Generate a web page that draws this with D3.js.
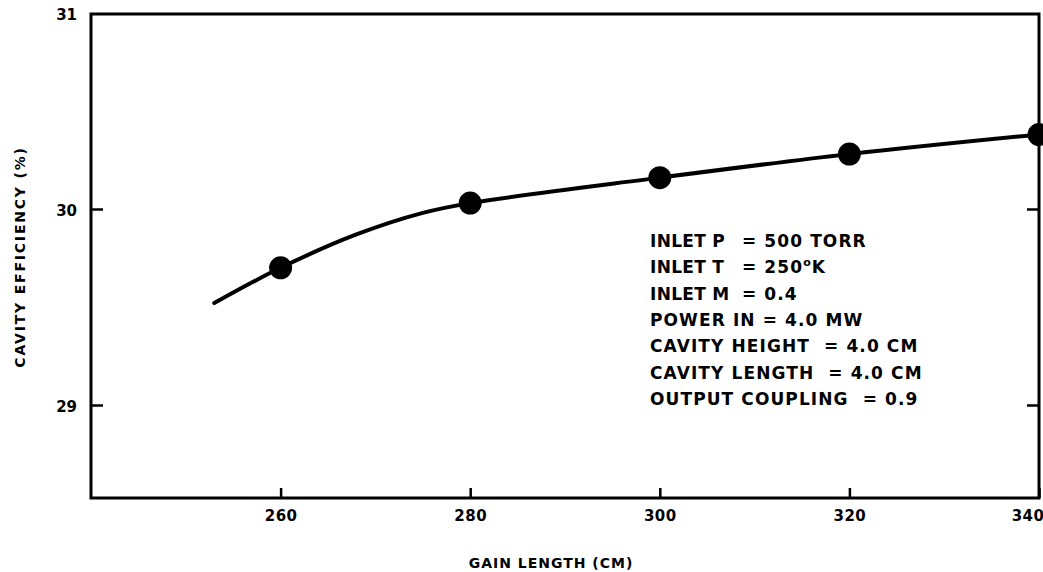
<!DOCTYPE html>
<html>
<head>
<meta charset="utf-8">
<script src="https://cdn.jsdelivr.net/npm/d3@7"></script>
<style>
  body { margin: 0; background: #fff; }
  text { font-family: "DejaVu Sans", sans-serif; font-weight: bold; fill: #000; }
</style>
</head>
<body>
<svg id="chart" width="1043" height="572"></svg>
<script>
// gain length (cm) of the marked runs
var gainLength = [260, 280, 300, 320, 340];
// cavity efficiency (%) at each marker
var efficiency = [29.70, 30.03, 30.16, 30.28, 30.38];
// points (it starts left of the first marker)
var curveX = [253, 260, 268, 275, 280, 300, 320, 340];
var curveY = [29.52, 29.70, 29.87, 29.98, 30.03, 30.16, 30.28, 30.38];

var xTicks = [260, 280, 300, 320, 340];
var yTicks = [29, 30, 31];

var notesLeft = ["INLET P", "INLET T", "INLET M"];
var notesRight = ["= 500 TORR", "= 250", "= 0.4"];
var notesFull = ["POWER IN = 4.0 MW", "CAVITY HEIGHT  = 4.0 CM", "CAVITY LENGTH  = 4.0 CM", "OUTPUT COUPLING  = 0.9"];

var svg = d3.select("#chart");
var pLeft = 91, pRight = 1039, pTop = 13, pBottom = 498;

var x = d3.scaleLinear().domain([240, 340]).range([pLeft, pRight]);
var y = d3.scaleLinear().domain([29, 31]).range([405, 13]);

// frame
svg.append("rect")
  .attr("x", pLeft).attr("y", pTop + 1)
  .attr("width", pRight - pLeft).attr("height", pBottom - pTop - 1)
  .attr("fill", "none").attr("stroke", "#000").attr("stroke-width", 3);

// bottom axis, ticks pointing inward
var xAxis = svg.append("g")
  .attr("transform", "translate(0," + pBottom + ")")
  .call(d3.axisBottom(x).tickValues(xTicks).tickSizeInner(-10).tickSizeOuter(0).tickPadding(12));
xAxis.select(".domain").remove();
xAxis.selectAll("line").attr("stroke-width", 2.5);
xAxis.selectAll("text").style("font-size", "15px").attr("font-family", null).attr("letter-spacing", "0.5px");
xAxis.selectAll(".tick").filter(d => d == 340).select("text").attr("text-anchor", "end").attr("dx", 5);

// left axis
var yAxis = svg.append("g")
  .attr("transform", "translate(" + pLeft + ",0)")
  .call(d3.axisLeft(y).tickValues(yTicks).tickFormat(d3.format("d")).tickSizeInner(-12).tickSizeOuter(0).tickPadding(14));
yAxis.select(".domain").remove();
yAxis.selectAll("line").attr("stroke-width", 2.5);
yAxis.selectAll(".tick").filter(d => d == 31).select("line").remove();
yAxis.selectAll("text").style("font-size", "15px").attr("font-family", null).attr("dy", "0.4em");

// right side ticks
var yRight = svg.append("g")
  .attr("transform", "translate(" + pRight + ",0)")
  .call(d3.axisRight(y).tickValues([29, 30]).tickSizeInner(-12).tickSizeOuter(0).tickFormat(""));
yRight.select(".domain").remove();
yRight.selectAll("line").attr("stroke-width", 2.5);

// curve
var line = d3.line()
  .x(d => x(d[0]))
  .y(d => y(d[1]))
  .curve(d3.curveCatmullRom);

svg.append("path")
  .datum(d3.zip(curveX, curveY))
  .attr("d", line)
  .attr("fill", "none")
  .attr("stroke", "#000")
  .attr("stroke-width", 4)
  .attr("stroke-linecap", "round");

svg.selectAll("circle.pt")
  .data(d3.zip(gainLength, efficiency))
  .join("circle")
  .attr("class", "pt")
  .attr("cx", d => x(d[0]))
  .attr("cy", d => y(d[1]))
  .attr("r", 11.5)
  .attr("fill", "#000");

// axis titles
svg.append("text")
  .attr("x", 551).attr("y", 568)
  .attr("text-anchor", "middle")
  .style("font-size", "14px")
  .attr("letter-spacing", "1px")
  .text("GAIN LENGTH (CM)");

svg.append("text")
  .attr("transform", "translate(25,257) rotate(-90)")
  .attr("text-anchor", "middle")
  .style("font-size", "14px")
  .attr("letter-spacing", "1.8px")
  .text("CAVITY EFFICIENCY (%)");

// notes block
var noteX = 650, noteY0 = 247, noteStep = 26.3;
var notes = svg.append("g").style("font-size", "17px").attr("letter-spacing", "1.1px");

notesLeft.forEach(function(s, i) {
  notes.append("text").attr("x", noteX).attr("y", noteY0 + i * noteStep).attr("letter-spacing", "0.3px").text(s);
  var t = notes.append("text").attr("x", 742).attr("y", noteY0 + i * noteStep).text(notesRight[i]);
  if (i == 1) {
    t.append("tspan").attr("dy", -7).style("font-size", "11px").text("o");
    t.append("tspan").attr("dy", 7).text("K");
  }
});
notesFull.forEach(function(s, i) {
  notes.append("text")
    .attr("x", noteX)
    .attr("y", noteY0 + (i + 3) * noteStep)
    .attr("xml:space", "preserve")
    .style("white-space", "pre")
    .text(s);
});
</script>
</body>
</html>
